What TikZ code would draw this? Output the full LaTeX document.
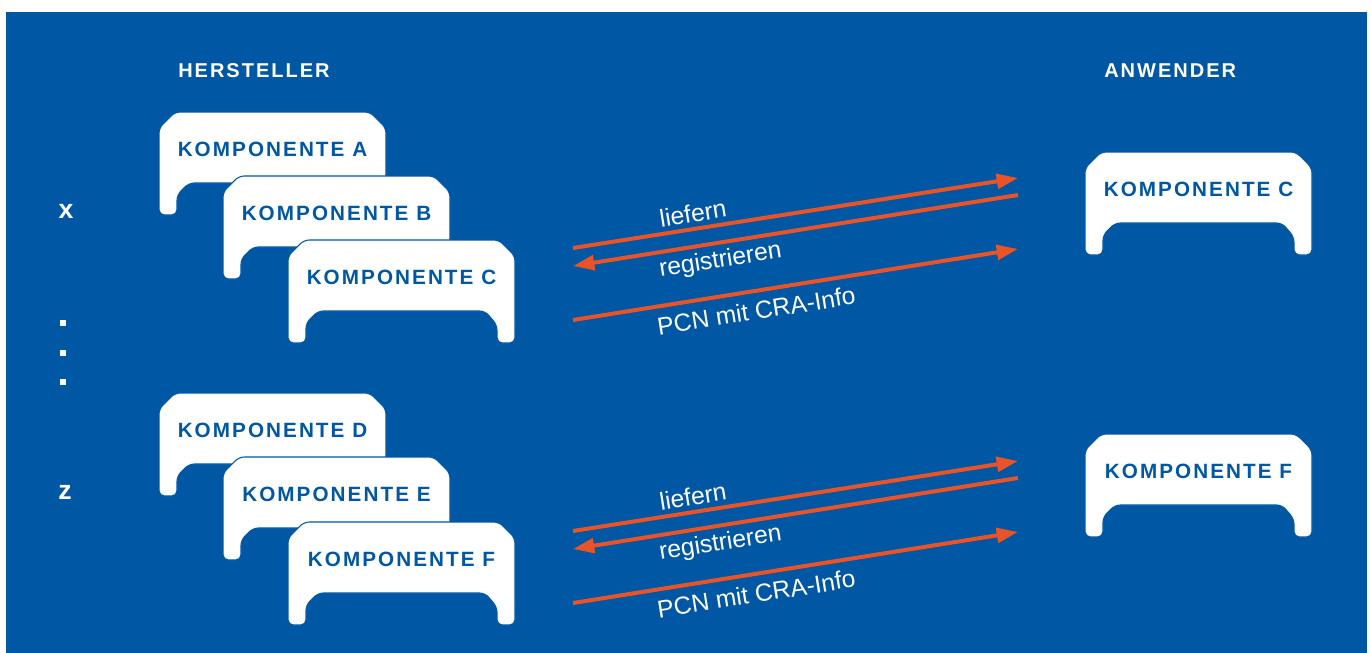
\documentclass[tikz,border=0pt]{standalone}
\usepackage{fontspec}
\setmainfont{Liberation Sans}
\newfontfamily\capsfont[LetterSpace=10]{Liberation Sans}
\usetikzlibrary{arrows.meta}
\definecolor{craBlue}{RGB}{0,87,163}
\definecolor{craOrange}{RGB}{232,84,40}
\tikzset{
  pics/card/.style={code={
    \draw[craBlue,fill=white,line width=0.8pt,rounded corners=4pt]
      (0,16) -- (16,0) -- (211,0) -- (227,16) -- (227,103) -- (209,103)
      -- (209,85) -- (197,71) -- (30,71) -- (18,83) -- (18,103) -- (0,103) -- cycle;
    \node[cardlabel] (-t) at (113.5,37) {#1};
  }},
  cardlabel/.style={inner sep=0pt,text=craBlue,font=\capsfont\bfseries\fontsize{15.5}{18}\selectfont},
  head/.style={inner sep=0pt,anchor=west,text=white,font=\capsfont\bfseries\fontsize{15}{18}\selectfont},
  rowmark/.style={inner sep=0pt,text=white,font=\bfseries\fontsize{20}{22}\selectfont},
  dotmark/.style={fill=white,inner sep=0pt,minimum size=3.8pt},
  flow/.style={craOrange,line width=3pt,-{Triangle[length=16pt,width=11pt]}},
  flowback/.style={craOrange,line width=3pt,{Triangle[length=16pt,width=11pt]}-},
  flowlabel/.style={inner sep=0pt,text=white,font=\fontsize{18.5}{20}\selectfont,sloped}
}
\begin{document}
\begin{tikzpicture}[x=0.75pt,y=-0.75pt]
\useasboundingbox (0,0) rectangle (1371,653);
\fill[craBlue] (6,12) rectangle (1367,653);

% headings
\node[head] (hst) at (178,71) {HERSTELLER};
\node[head] (anw) at (1104,71) {ANWENDER};

% row marks
\node[rowmark] (mx) at (66,211) {x};
\node[rowmark] (mz) at (65,492) {z};
\node[dotmark] (d1) at (63,323) {};
\node[dotmark] (d2) at (63,353) {};
\node[dotmark] (d3) at (63,382) {};

% manufacturer
\pic (cA) at (159,112) {card={KOMPONENTE A}};
\pic (cB) at (223,176) {card={KOMPONENTE B}};
\pic (cC) at (288,240) {card={KOMPONENTE C}};
\pic (cD) at (159,393) {card={KOMPONENTE D}};
\pic (cE) at (223,457) {card={KOMPONENTE E}};
\pic (cF) at (288,522) {card={KOMPONENTE F}};

% user
\pic (uC) at (1085,152) {card={KOMPONENTE C}};
\pic (uF) at (1085,434) {card={KOMPONENTE F}};

% exchange
\coordinate (s1) at (573,248); \coordinate (e1) at (1018,178);
\coordinate (s2) at (573,266); \coordinate (e2) at (1018,195);
\coordinate (s3) at (573,320); \coordinate (e3) at (1018,249);
\coordinate (s4) at (573,531); \coordinate (e4) at (1018,461);
\coordinate (s5) at (573,549); \coordinate (e5) at (1018,478);
\coordinate (s6) at (573,603); \coordinate (e6) at (1018,532);
\draw[flow] (s1) -- node[flowlabel,above=3.5pt,pos=0.275] (l1) {liefern} (e1);
\draw[flowback] (s2) -- node[flowlabel,below=3.5pt,pos=0.325] (l2) {registrieren} (e2);
\draw[flow] (s3) -- node[flowlabel,below=6.5pt,pos=0.405] (l3) {PCN mit CRA-Info} (e3);
\draw[flow] (s4) -- node[flowlabel,above=3.5pt,pos=0.275] (l4) {liefern} (e4);
\draw[flowback] (s5) -- node[flowlabel,below=3.5pt,pos=0.325] (l5) {registrieren} (e5);
\draw[flow] (s6) -- node[flowlabel,below=6.5pt,pos=0.405] (l6) {PCN mit CRA-Info} (e6);
\end{tikzpicture}
\end{document}
